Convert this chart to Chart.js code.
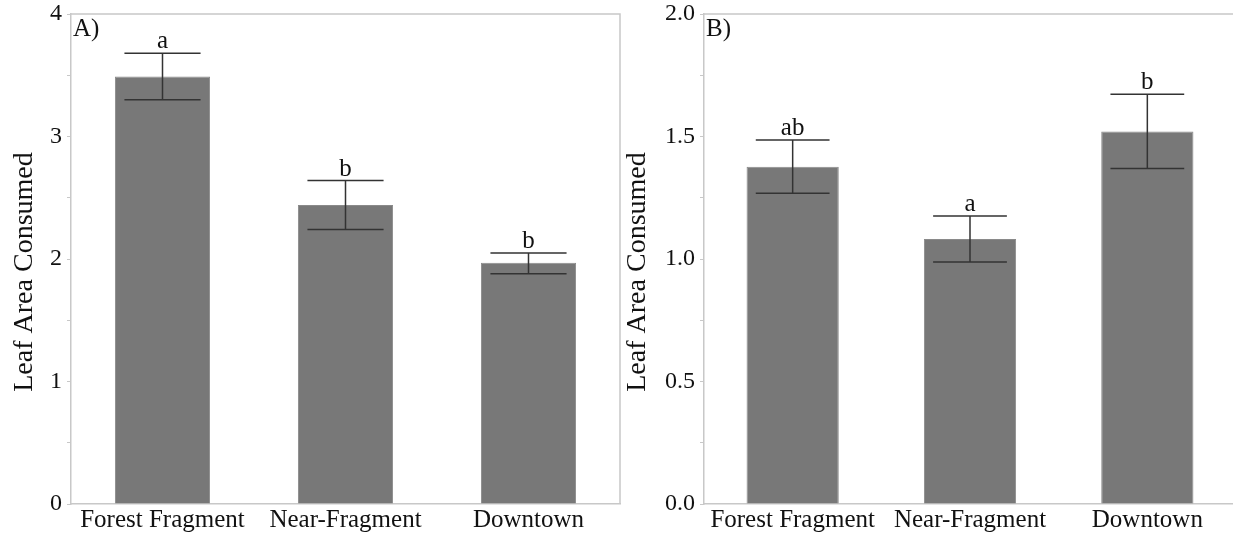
<!DOCTYPE html>
<html>
<head>
<meta charset="utf-8">
<script src="https://cdn.jsdelivr.net/npm/chart.js@4.4.0/dist/chart.umd.min.js"></script>
<style>
  body { margin: 0; width: 1233px; height: 538px; overflow: hidden; background: #fff; position: relative; }
  .panel { position: absolute; top: 0; height: 538px; }
  #wrapA { left: 0; width: 621px; }
  #wrapB { left: 621px; width: 640px; }
</style>
</head>
<body>
<div class="panel" id="wrapA"><canvas id="chartA"></canvas></div>
<div class="panel" id="wrapB"><canvas id="chartB"></canvas></div>
<script>
// categories shared by both panels
var categories = ['Forest Fragment', 'Near-Fragment', 'Downtown'];

// panel A
var meanA = [3.49, 2.44, 1.97];
var lowA = [3.30, 2.24, 1.88];
var highA = [3.68, 2.64, 2.05];
var lettersA = ['a', 'b', 'b'];

// panel B
var meanB = [1.377, 1.082, 1.52];
var lowB = [1.268, 0.988, 1.369];
var highB = [1.486, 1.176, 1.672];
var lettersB = ['ab', 'a', 'b'];

var yTitle = 'Leaf Area Consumed';

Chart.defaults.font.family = "'Liberation Serif', 'Times New Roman', serif";
Chart.defaults.color = '#111';

var axisGrey = '#c8c8c8';

// top + right frame lines
var framePlugin = {
    id: 'frame',
    beforeDatasetsDraw: function(chart) {
        var a = chart.chartArea, c = chart.ctx;
        c.save();
        c.strokeStyle = axisGrey;
        c.lineWidth = 1.5;
        c.beginPath();
        c.moveTo(a.left, a.top);
        c.lineTo(a.right, a.top);
        c.lineTo(a.right, a.bottom);
        c.stroke();
        c.restore();
    }
};

// error bars, significance letters, panel label, y title
var errPlugin = {
    id: 'err',
    afterDatasetsDraw: function(chart, args, opts) {
        var c = chart.ctx;
        var y = chart.scales.y;
        var meta = chart.getDatasetMeta(0);
        c.save();
        meta.data.forEach(function(bar, i) {
            var half = bar.width * 0.4;
            var yLo = y.getPixelForValue(opts.low[i]);
            var yHi = y.getPixelForValue(opts.high[i]);
            c.strokeStyle = '#333';
            c.lineWidth = 1.5;
            c.beginPath();
            c.moveTo(bar.x, yLo); c.lineTo(bar.x, yHi);
            c.moveTo(bar.x - half, yHi); c.lineTo(bar.x + half, yHi);
            c.moveTo(bar.x - half, yLo); c.lineTo(bar.x + half, yLo);
            c.stroke();
            c.fillStyle = '#111';
            c.font = "25px 'Liberation Serif', serif";
            c.textAlign = 'center';
            c.textBaseline = 'alphabetic';
            c.fillText(opts.letters[i], bar.x, yHi - 5);
        });
        c.font = "25px 'Liberation Serif', serif";
        c.textAlign = 'left';
        c.textBaseline = 'top';
        c.fillStyle = '#111';
        c.fillText(opts.label, chart.chartArea.left + 2, chart.chartArea.top + 3);

        // rotated axis title
        c.translate(opts.titleX, 272);
        c.rotate(-Math.PI / 2);
        c.font = "28px 'Liberation Serif', serif";
        c.textAlign = 'center';
        c.textBaseline = 'middle';
        c.fillText(yTitle, 0, 0);
        c.restore();
    }
};

function makeChart(id, means, low, high, letters, label, yMax, step, decimals, yWidth, titleX, padRight) {
    var ctx = document.getElementById(id).getContext('2d');
    return new Chart(ctx, {
        type: 'bar',
        data: {
            labels: categories,
            datasets: [{
                data: means,
                backgroundColor: '#787878',
                borderColor: '#8a8a8a',
                borderWidth: 1,
                categoryPercentage: 1.0,
                barPercentage: 0.52
            }]
        },
        options: {
            responsive: true,
            maintainAspectRatio: false,
            animation: false,
            layout: { padding: { top: 14, right: padRight, left: 0, bottom: 0 } },
            plugins: {
                legend: { display: false },
                tooltip: { enabled: false },
                err: { low: low, high: high, letters: letters, label: label, titleX: titleX }
            },
            scales: {
                x: {
                    grid: { display: false, drawTicks: false, tickLength: 0 },
                    border: { color: axisGrey, width: 1.5 },
                    ticks: { font: { size: 25 }, color: '#111', padding: 1, maxRotation: 0 },
                    afterFit: function(s) { s.height = 34; }
                },
                y: {
                    min: 0,
                    max: yMax,
                    grid: { drawOnChartArea: false, tickLength: 4, color: axisGrey },
                    border: { color: axisGrey, width: 1.5 },
                    ticks: {
                        stepSize: step,
                        font: { size: 24 },
                        color: '#111',
                        padding: 5,
                        callback: function(v) {
                            var major = step * 2;
                            if (Math.abs(v / major - Math.round(v / major)) > 1e-6) return '';
                            return v.toFixed(decimals);
                        }
                    },
                    afterFit: function(s) {
                        s.width = yWidth;
                        s.paddingTop = 0;
                        s.paddingBottom = 0;
                    }
                }
            }
        },
        plugins: [framePlugin, errPlugin]
    });
}

makeChart('chartA', meanA, lowA, highA, lettersA, 'A)', 4, 0.5, 0, 71, 25, 1);
makeChart('chartB', meanB, lowB, highB, lettersB, 'B)', 2, 0.25, 1, 83, 17, 25);
</script>
</body>
</html>
